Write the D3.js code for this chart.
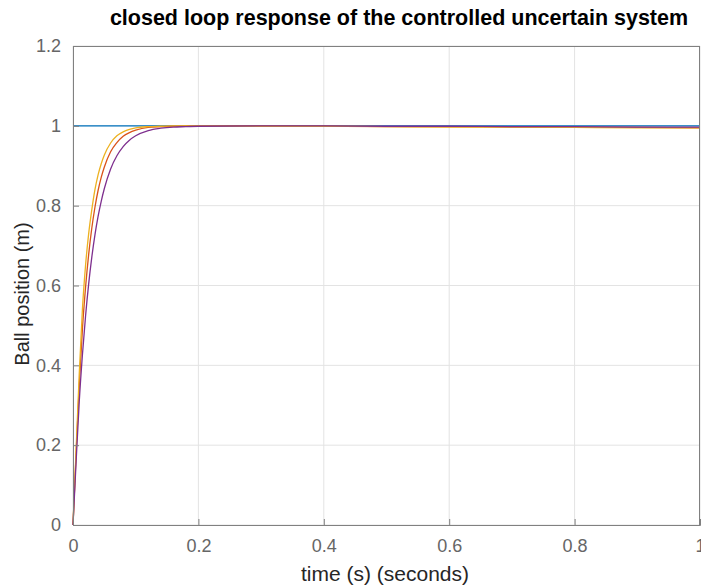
<!DOCTYPE html>
<html>
<head>
<meta charset="utf-8">
<script src="https://cdn.jsdelivr.net/npm/d3@7"></script>
<style>
  html, body { margin: 0; padding: 0; background: #fff; }
  svg { display: block; font-family: "Liberation Sans", Arial, Helvetica, sans-serif; }
</style>
</head>
<body>
<svg id="chart" width="701" height="587"></svg>
<script>
// ---- data ----
const time = [0, 0.005, 0.01, 0.015, 0.02, 0.025, 0.03, 0.035, 0.04, 0.045, 0.05, 0.06, 0.07, 0.08, 0.09, 0.1, 0.12, 0.14, 0.16, 0.18, 0.2, 0.3, 0.4, 0.5, 0.6, 0.7, 0.8, 0.9, 1.0];
const reference = [1, 1, 1, 1, 1, 1, 1, 1, 1, 1, 1, 1, 1, 1, 1, 1, 1, 1, 1, 1, 1, 1, 1, 1, 1, 1, 1, 1, 1];
const responseOrange = [0, 0.18, 0.35, 0.49, 0.595, 0.678, 0.744, 0.796, 0.838, 0.871, 0.897, 0.935, 0.958, 0.974, 0.983, 0.989, 0.996, 0.998, 0.999, 1.0, 1.0, 1.0, 0.999, 0.998, 0.998, 0.997, 0.996, 0.996, 0.995];
const responseYellow = [0, 0.19, 0.38, 0.54, 0.65, 0.73, 0.79, 0.84, 0.877, 0.905, 0.927, 0.957, 0.975, 0.985, 0.991, 0.995, 0.998, 0.999, 1.0, 1.0, 1.0, 0.999, 0.999, 0.998, 0.997, 0.997, 0.996, 0.995, 0.995];
const responsePurple = [0, 0.16, 0.31, 0.426, 0.523, 0.604, 0.671, 0.727, 0.773, 0.811, 0.843, 0.892, 0.925, 0.948, 0.964, 0.975, 0.988, 0.994, 0.997, 0.998, 0.999, 1.0, 1.0, 0.999, 0.999, 0.998, 0.998, 0.997, 0.997];
const xTicks = [0, 0.2, 0.4, 0.6, 0.8, 1];
const yTicks = [0, 0.2, 0.4, 0.6, 0.8, 1, 1.2];
const titleText = "closed loop response of the controlled uncertain system";
const xLabel = "time (s) (seconds)";
const yLabel = "Ball position (m)";

const series = [
  { values: reference, color: "#0072BD" },
  { values: responseOrange, color: "#D95319" },
  { values: responseYellow, color: "#EDB120" },
  { values: responsePurple, color: "#7E2F8E" }
];

// ---- layout ----
const pLeft = 73, pRight = 700, pTop = 46, pBottom = 525;
const svg = d3.select("#chart");
const x = d3.scaleLinear().domain([0, 1]).range([pLeft, pRight]);
const y = d3.scaleLinear().domain([0, 1.2]).range([pBottom, pTop]);

// grid
const grid = svg.append("g");
grid.selectAll("line.vx").data(xTicks).join("line")
  .attr("x1", d => x(d)).attr("x2", d => x(d))
  .attr("y1", pTop).attr("y2", pBottom)
  .attr("stroke", "#e3e3e3").attr("stroke-width", 1);
grid.selectAll("line.hy").data(yTicks).join("line")
  .attr("x1", pLeft).attr("x2", pRight)
  .attr("y1", d => y(d)).attr("y2", d => y(d))
  .attr("stroke", "#e3e3e3").attr("stroke-width", 1);

// lines
const line = d3.line().x((d, i) => x(time[i])).y(d => y(d)).curve(d3.curveMonotoneX);
svg.append("g").selectAll("path").data(series).join("path")
  .attr("d", d => line(d.values))
  .attr("fill", "none")
  .attr("stroke", d => d.color)
  .attr("stroke-width", 1.3);

// axes (inward ticks)
const tickColor = "#666";
const xAxis = svg.append("g").attr("transform", `translate(0,${pBottom})`)
  .call(d3.axisBottom(x).tickValues(xTicks).tickSize(-6).tickPadding(14).tickFormat(d3.format("~g")));
const yAxis = svg.append("g").attr("transform", `translate(${pLeft},0)`)
  .call(d3.axisLeft(y).tickValues(yTicks).tickSize(-6).tickPadding(12).tickFormat(d3.format("~g")));
[xAxis, yAxis].forEach(a => {
  a.select(".domain").attr("stroke", "#808080");
  a.selectAll(".tick line").attr("stroke", "#808080");
  a.selectAll(".tick text").attr("fill", tickColor).style("font-size", "18px")
    .style("font-family", "'Liberation Sans', Arial, sans-serif");
});
// top and right box edges
svg.append("line").attr("x1", pLeft).attr("x2", pRight).attr("y1", pTop + 0.5).attr("y2", pTop + 0.5).attr("stroke", "#808080");
svg.append("line").attr("x1", pRight - 0.5).attr("x2", pRight - 0.5).attr("y1", pTop).attr("y2", pBottom).attr("stroke", "#808080");

// title & labels
svg.append("text").attr("x", 399).attr("y", 25).attr("text-anchor", "middle")
  .style("font-size", "21.5px").style("font-weight", "bold").attr("fill", "#000").text(titleText);
svg.append("text").attr("x", 385).attr("y", 581).attr("text-anchor", "middle")
  .style("font-size", "21px").attr("fill", "#262626").text(xLabel);
svg.append("text").attr("transform", "translate(29,294) rotate(-90)").attr("text-anchor", "middle")
  .style("font-size", "20px").attr("fill", "#262626").text(yLabel);
</script>
</body>
</html>
